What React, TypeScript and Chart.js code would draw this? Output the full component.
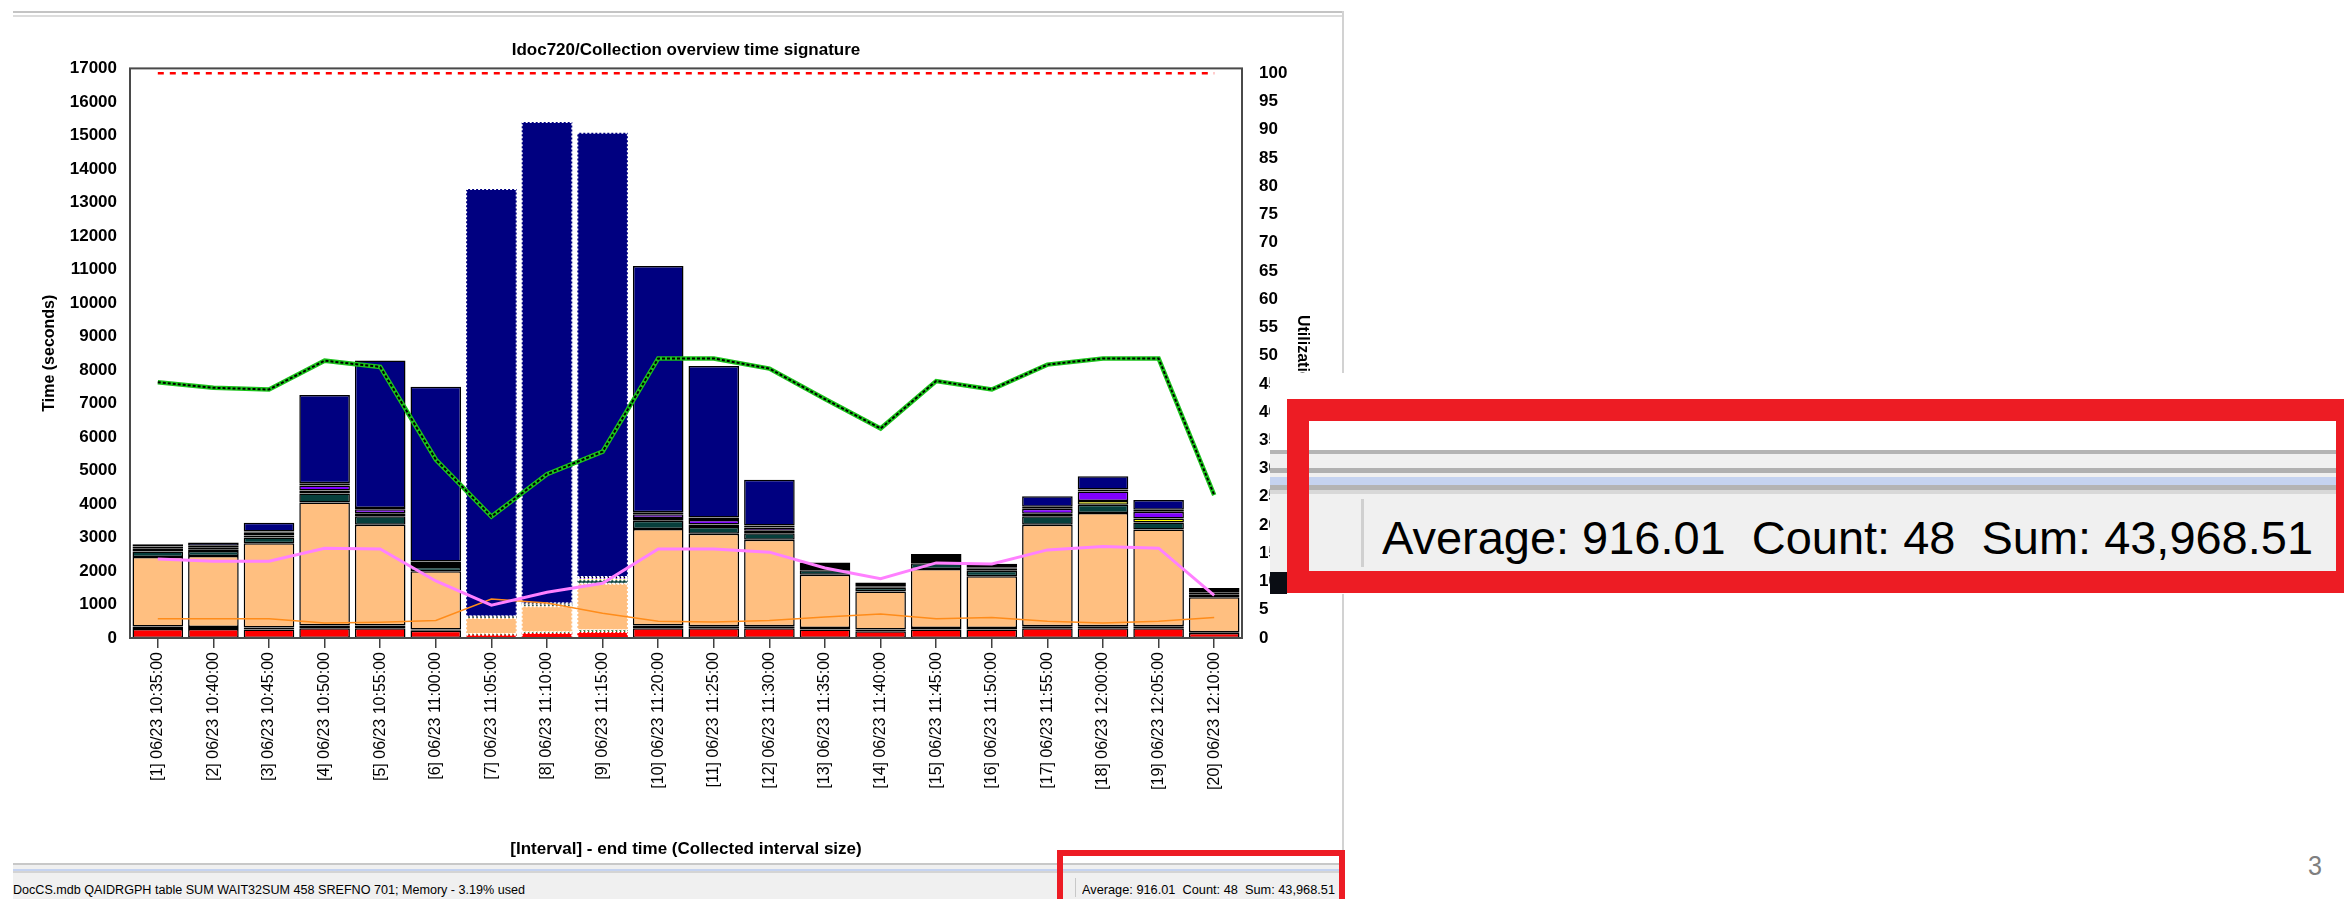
import React, { useEffect, useLayoutEffect, useRef } from "react";
import { Chart, registerables } from "chart.js";
Chart.register(...registerables);

// ---------- data ----------
const categories = [
  "[1] 06/23 10:35:00", "[2] 06/23 10:40:00", "[3] 06/23 10:45:00", "[4] 06/23 10:50:00",
  "[5] 06/23 10:55:00", "[6] 06/23 11:00:00", "[7] 06/23 11:05:00", "[8] 06/23 11:10:00",
  "[9] 06/23 11:15:00", "[10] 06/23 11:20:00", "[11] 06/23 11:25:00", "[12] 06/23 11:30:00",
  "[13] 06/23 11:35:00", "[14] 06/23 11:40:00", "[15] 06/23 11:45:00", "[16] 06/23 11:50:00",
  "[17] 06/23 11:55:00", "[18] 06/23 12:00:00", "[19] 06/23 12:05:00", "[20] 06/23 12:10:00",
];

// stacked time components (seconds), bottom to top
const redTime = [270, 270, 250, 290, 290, 220, 100, 150, 180, 290, 290, 290, 250, 200, 250, 250, 290, 290, 290, 150];
const greenTime = [70, 60, 60, 80, 80, 30, 20, 20, 50, 80, 60, 60, 50, 50, 50, 50, 60, 60, 60, 20];
const peachTime = [2080, 2120, 2520, 3675, 3010, 1740, 480, 780, 1390, 2880, 2760, 2580, 1590, 1140, 1758, 1540, 3030, 3380, 2890, 1043];
const tealTime = [160, 150, 170, 270, 250, 130, 20, 40, 100, 250, 200, 200, 130, 110, 170, 170, 250, 250, 210, 80];
const yellowTime = [50, 50, 60, 90, 90, 60, 0, 10, 30, 80, 80, 70, 70, 20, 70, 70, 80, 110, 120, 50];
const purpleTime = [50, 60, 80, 150, 120, 60, 0, 10, 30, 110, 130, 100, 30, 10, 60, 20, 150, 280, 200, 20];
const blackTime = [50, 40, 40, 60, 40, 40, 20, 20, 40, 60, 80, 60, 60, 80, 60, 50, 60, 60, 60, 70];
const navyTime = [70, 100, 260, 2635, 4400, 5220, 12760, 14370, 13260, 7350, 4520, 1360, 76, 50, 87, 67, 314, 400, 285, 57];

// utilization lines (%)
const utilGreen = [45.3, 44.3, 44.0, 49.1, 48.0, 31.6, 21.5, 29.0, 33.0, 49.5, 49.5, 47.7, 42.3, 37.1, 45.5, 44.0, 48.4, 49.5, 49.5, 25.3];
const utilPink = [14.0, 13.6, 13.6, 15.9, 15.75, 10.1, 5.8, 8.1, 9.7, 15.75, 15.75, 15.2, 12.4, 10.5, 13.3, 13.1, 15.6, 16.2, 15.9, 7.55];
const utilOrange = [3.4, 3.4, 3.4, 2.65, 2.8, 3.1, 6.9, 6.2, 4.4, 2.95, 2.85, 3.1, 3.7, 4.25, 3.4, 3.65, 2.95, 2.65, 2.95, 3.65];
const threshold = [100, 100, 100, 100, 100, 100, 100, 100, 100, 100, 100, 100, 100, 100, 100, 100, 100, 100, 100, 100];

const highlighted = [6, 7, 8];

const titleText = "Idoc720/Collection overview time signature";
const yTitle = "Time (seconds)";
const y1Title = "Utilization";
const xTitle = "[Interval] - end time (Collected interval size)";
const statusLeft = "DocCS.mdb QAIDRGPH table SUM WAIT32SUM 458 SREFNO 701; Memory - 3.19% used";
const statusRight = "Average: 916.01  Count: 48  Sum: 43,968.51";

const FONT = "'Liberation Sans', Arial, sans-serif";

const framePlugin = {
  id: "frame",
  afterDraw(chart: any) {
    const { ctx, chartArea: a } = chart;
    ctx.save();
    ctx.strokeStyle = "#4a4a4a";
    ctx.lineWidth = 2;
    ctx.strokeRect(a.left, a.top, a.right - a.left, a.bottom - a.top);
    ctx.restore();
  },
};

const highlightPlugin = {
  id: "highlight",
  afterDatasetDraw(chart: any, args: any) {
    const meta = args.meta;
    if (meta.type !== "bar") return;
    const ctx = chart.ctx;
    ctx.save();
    ctx.strokeStyle = "#ffffff";
    ctx.lineWidth = 2;
    ctx.setLineDash([2, 2]);
    for (const i of highlighted) {
      const el = meta.data[i];
      if (!el) continue;
      const p = el.getProps(["x", "y", "base", "width"], true);
      const h = Math.abs(p.base - p.y);
      if (h < 0.5) continue;
      ctx.strokeRect(p.x - p.width / 2, Math.min(p.y, p.base), p.width, h);
    }
    ctx.restore();
  },
};

function barSet(label: string, data: number[], color: string) {
  return {
    type: "bar" as const,
    label,
    data,
    backgroundColor: color,
    borderColor: "#000000",
    borderWidth: data.map((_, i) => (highlighted.includes(i) ? 0 : 1.5)),
    borderSkipped: false,
    yAxisID: "y",
    stack: "time",
    order: 10,
    barPercentage: 0.91,
    categoryPercentage: 1,
  };
}

function lineSet(label: string, data: number[], color: string, width: number, order: number, dash: number[] = []) {
  return {
    type: "line" as const,
    label,
    data,
    borderColor: color,
    backgroundColor: color,
    borderWidth: width,
    borderDash: dash,
    pointRadius: 0,
    tension: 0,
    fill: false,
    yAxisID: "y1",
    order,
  };
}

function ChartView() {
  const ref = useRef<HTMLCanvasElement>(null);
  useEffect(() => {
    if (!ref.current) return;
    const chart = new Chart(ref.current, {
      data: {
        labels: categories,
        datasets: [
          lineSet("Utilization overlay", utilGreen, "#000000", 2, 0, [3, 2]),
          lineSet("Utilization", utilGreen, "#1cc41c", 4.5, 1),
          lineSet("Util 2", utilPink, "#ff80ff", 3, 2),
          lineSet("Util 3", utilOrange, "#ff8c1a", 1.5, 3),
          lineSet("Limit", threshold, "#ff0000", 2.6, 4, [6, 6]),
          barSet("Red", redTime, "#ff0000"),
          barSet("Green", greenTime, "#145a14"),
          barSet("Peach", peachTime, "#ffbf80"),
          barSet("Teal", tealTime, "#063f3c"),
          barSet("Yellow", yellowTime, "#ffff00"),
          barSet("Purple", purpleTime, "#8000ff"),
          barSet("Black", blackTime, "#000000"),
          barSet("Navy", navyTime, "#000080"),
        ] as any,
      },
      options: {
        animation: false,
        responsive: false,
        devicePixelRatio: 1,
        layout: { padding: 0 },
        plugins: {
          legend: { display: false },
          tooltip: { enabled: false },
          title: {
            display: true,
            text: titleText,
            fullSize: false,
            color: "#000000",
            font: { family: FONT, size: 17, weight: "bold" },
            padding: { top: 40, bottom: 8 },
          },
        },
        scales: {
          x: {
            stacked: true,
            offset: true,
            grid: {
              display: true,
              drawOnChartArea: false,
              drawTicks: true,
              tickLength: 10,
              color: "#404040",
              lineWidth: 1.5,
              offset: false,
            },
            border: { display: false },
            ticks: {
              autoSkip: false,
              minRotation: 90,
              maxRotation: 90,
              padding: 4,
              color: "#000000",
              font: { family: FONT, size: 16 },
            },
            title: {
              display: true,
              text: xTitle,
              color: "#000000",
              font: { family: FONT, size: 17, weight: "bold" },
              padding: { top: 18, bottom: 0 },
            },
            afterFit: (s: any) => {
              s.height = 222;
            },
          },
          y: {
            stacked: true,
            position: "left",
            min: 0,
            max: 17000,
            grid: { display: false },
            border: { display: false },
            ticks: {
              stepSize: 1000,
              padding: 5,
              color: "#000000",
              font: { family: FONT, size: 17, weight: "bold" },
              callback: (v: any) => String(v),
            },
            title: {
              display: true,
              text: yTitle,
              color: "#000000",
              font: { family: FONT, size: 16, weight: "bold" },
              padding: { top: 40, bottom: 0 },
            },
            afterFit: (s: any) => {
              s.width = 130;
            },
          },
          y1: {
            position: "right",
            min: 0,
            max: 100.85,
            grid: { display: false },
            border: { display: false },
            ticks: {
              stepSize: 5,
              includeBounds: false,
              padding: 9,
              color: "#000000",
              font: { family: FONT, size: 17, weight: "bold" },
              callback: (v: any) => String(v),
            },
            title: {
              display: true,
              text: y1Title,
              color: "#000000",
              font: { family: FONT, size: 16, weight: "bold" },
              padding: { top: 28, bottom: 0 },
            },
            afterFit: (s: any) => {
              s.width = 98;
            },
          },
        },
      } as any,
      plugins: [highlightPlugin, framePlugin],
    });
    return () => chart.destroy();
  }, []);
  return (
    <canvas
      ref={ref}
      width={1340}
      height={860}
      style={{ position: "absolute", left: 0, top: 0, width: 1340, height: 860 }}
    />
  );
}

function FitText(props: {
  text: string; left: number; top: number; width: number; size: number;
  color?: string; weight?: string | number; family?: string;
}) {
  const ref = useRef<HTMLSpanElement>(null);
  useLayoutEffect(() => {
    const el = ref.current;
    if (!el) return;
    el.style.transform = "none";
    const w = el.getBoundingClientRect().width;
    if (w > 0) el.style.transform = `scaleX(${props.width / w})`;
  }, []);
  return (
    <span
      ref={ref}
      style={{
        position: "absolute",
        left: props.left,
        top: props.top,
        fontSize: props.size,
        lineHeight: 1,
        whiteSpace: "pre",
        transformOrigin: "0 0",
        color: props.color || "#000",
        fontWeight: props.weight || "normal",
        fontFamily: props.family || FONT,
      }}
    >
      {props.text}
    </span>
  );
}

function Box(p: { l: number; t: number; w: number; h: number; bg: string; z?: number }) {
  return (
    <div
      style={{ position: "absolute", left: p.l, top: p.t, width: p.w, height: p.h, background: p.bg, zIndex: p.z || 0 }}
    />
  );
}

export default function App() {
  return (
    <div
      style={{
        position: "absolute",
        left: 0,
        top: 0,
        width: 2344,
        height: 899,
        overflow: "hidden",
        background: "#ffffff",
        fontFamily: FONT,
      }}
    >
      {/* window frame */}
      <Box l={13} t={11} w={1331} h={2} bg="#c4c4c4" />
      <Box l={13} t={15} w={1331} h={2} bg="#dcdcdc" />
      <Box l={1342} t={11} w={2} h={852} bg="#d2d2d2" />

      <ChartView />

      {/* status bar of the window */}
      <Box l={13} t={863} w={1331} h={2} bg="#c8c8c8" />
      <Box l={13} t={865} w={1331} h={4} bg="#f0f0f0" />
      <Box l={13} t={869} w={1331} h={2} bg="#c5d3f0" />
      <Box l={13} t={871} w={1331} h={2} bg="#d4d4d4" />
      <Box l={13} t={873} w={1331} h={26} bg="#f0f0f0" />
      <FitText text={statusLeft} left={13} top={883.5} width={512} size={12.5} color="#000" />
      <Box l={1075} t={878} w={1} h={19} bg="#c8c8c8" />
      <FitText text={statusRight} left={1082} top={882.5} width={253} size={13} color="#000" />
      <div
        style={{
          position: "absolute",
          left: 1057,
          top: 850,
          width: 288 - 12,
          height: 49 - 6,
          border: "6px solid #ed1c24",
          borderBottomWidth: 0,
        }}
      />

      {/* zoomed call-out of the status bar */}
      <Box l={1270} t={373} w={1074} h={221} bg="#ffffff" z={2} />
      <Box l={1270} t={450} w={1074} h={4} bg="#b4b4b4" z={2} />
      <Box l={1270} t={454} w={1074} h={14} bg="#f0f0f0" z={2} />
      <Box l={1270} t={468} w={1074} h={5} bg="#b0b0b0" z={2} />
      <Box l={1270} t={473} w={1074} h={4} bg="#f0f0f0" z={2} />
      <Box l={1270} t={477} w={1074} h={8} bg="#c5d3f0" z={2} />
      <Box l={1270} t={485} w={1074} h={5} bg="#b4b4b4" z={2} />
      <Box l={1270} t={490} w={1074} h={4} bg="#d8d8d8" z={2} />
      <Box l={1270} t={494} w={1074} h={78} bg="#f0f0f0" z={2} />
      <Box l={1270} t={572} w={17} h={22} bg="#0a0d14" z={2} />
      <Box l={1361} t={499} w={3} h={68} bg="#d0d0d0" z={3} />
      <div style={{ position: "absolute", left: 0, top: 0, zIndex: 3 }}>
        <FitText text={statusRight} left={1382} top={514} width={931} size={47} color="#000" />
      </div>
      <div
        style={{
          position: "absolute",
          left: 1287,
          top: 399,
          width: 2344 - 1287 - 22 - 8,
          height: 194 - 44,
          borderStyle: "solid",
          borderColor: "#ed1c24",
          borderWidth: "22px 8px 22px 22px",
          zIndex: 4,
        }}
      />

      {/* page number */}
      <FitText text="3" left={2308} top={852} width={14} size={28} color="#7f7f7f" />
    </div>
  );
}
